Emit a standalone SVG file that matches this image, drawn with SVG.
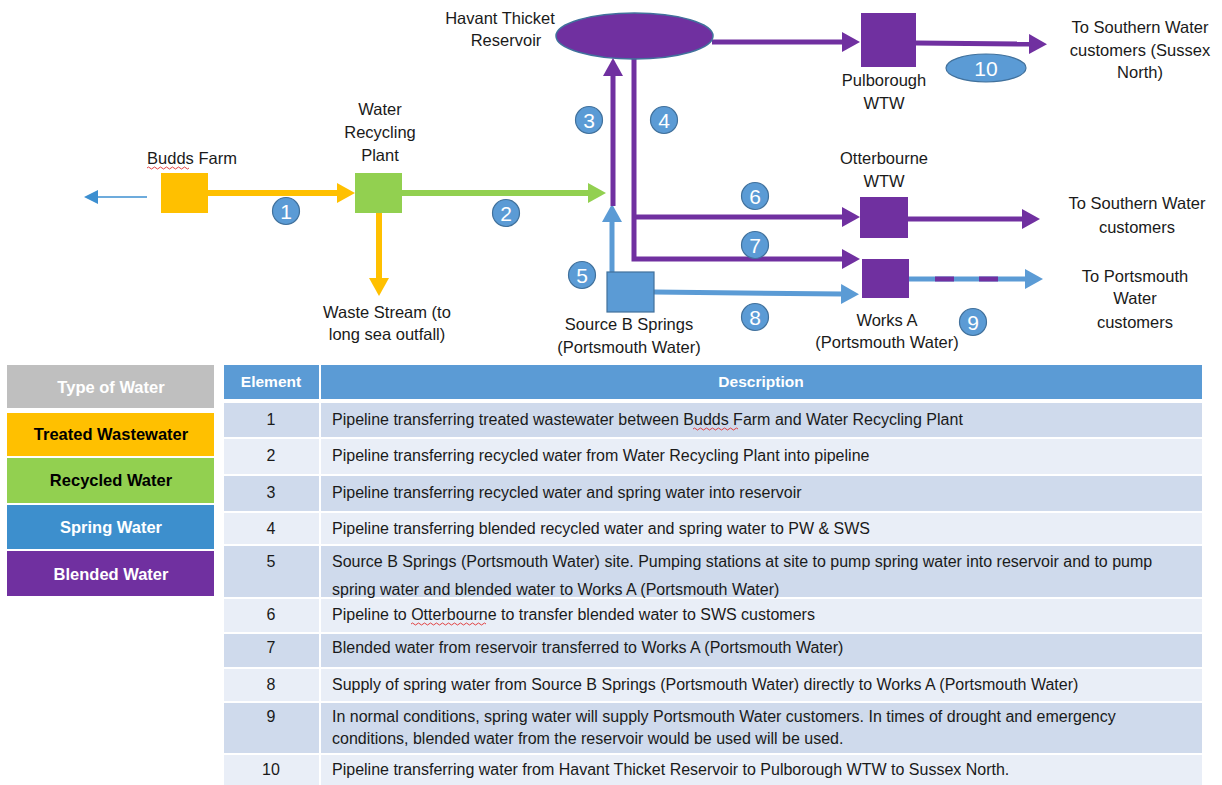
<svg xmlns="http://www.w3.org/2000/svg" width="1222" height="785" viewBox="0 0 1222 785">
<style>
text{font-family:"Liberation Sans",Arial,sans-serif;}
.lbl{font-size:16.5px;fill:#1a1a1a;text-anchor:middle;}
.num{font-size:21px;fill:#ffffff;text-anchor:middle;}
.badge{fill:#5B9BD5;stroke:#41719C;stroke-width:1.2;}
.leg{font-size:16.5px;font-weight:bold;text-anchor:middle;}
.th{font-size:15.5px;font-weight:bold;fill:#ffffff;text-anchor:middle;}
.td{font-size:16px;fill:#1a1a1a;}
.tdn{font-size:16px;fill:#1a1a1a;text-anchor:middle;}
.dark{fill:#CFDAEC;}
.light{fill:#E9EEF7;}
.py{stroke:#FFC000;stroke-width:6;fill:none;}
.pg{stroke:#92D050;stroke-width:6;fill:none;}
.pp{stroke:#7030A0;stroke-width:5;fill:none;}
.pb{stroke:#5B9BD5;stroke-width:5;fill:none;}
.squig{stroke:#E03030;stroke-width:0.9;fill:none;}
</style>
<defs>
<marker id="ay" markerUnits="userSpaceOnUse" markerWidth="18" markerHeight="20" viewBox="0 0 18 20" refX="1" refY="10" orient="auto"><path d="M0,0 L18,10 L0,20 z" fill="#FFC000"/></marker>
<marker id="ag" markerUnits="userSpaceOnUse" markerWidth="18" markerHeight="20" viewBox="0 0 18 20" refX="1" refY="10" orient="auto"><path d="M0,0 L18,10 L0,20 z" fill="#92D050"/></marker>
<marker id="ap" markerUnits="userSpaceOnUse" markerWidth="18" markerHeight="20" viewBox="0 0 18 20" refX="1" refY="10" orient="auto"><path d="M0,0 L18,10 L0,20 z" fill="#7030A0"/></marker>
<marker id="ab" markerUnits="userSpaceOnUse" markerWidth="18" markerHeight="20" viewBox="0 0 18 20" refX="1" refY="10" orient="auto"><path d="M0,0 L18,10 L0,20 z" fill="#5B9BD5"/></marker>
<marker id="abs" markerUnits="userSpaceOnUse" markerWidth="14" markerHeight="14" viewBox="0 0 14 14" refX="1" refY="7" orient="auto"><path d="M0,0 L14,7 L0,14 z" fill="#3D8FD0"/></marker>
</defs>

<g id="connectors">
<line x1="147" y1="197" x2="97" y2="197" stroke="#3D8FD0" stroke-width="1.5" marker-end="url(#abs)"/>
<line class="py" x1="208" y1="193" x2="338" y2="193" marker-end="url(#ay)"/>
<line class="py" x1="379" y1="213" x2="379" y2="279" marker-end="url(#ay)"/>
<line class="pg" x1="402" y1="193" x2="589" y2="193" marker-end="url(#ag)"/>
<line class="pb" x1="612" y1="272" x2="612" y2="221" marker-end="url(#ab)"/>
<line class="pp" x1="613" y1="206" x2="613" y2="75" marker-end="url(#ap)"/>
<path class="pp" d="M634,58 V259 H843" marker-end="url(#ap)"/>
<line class="pp" x1="634" y1="217" x2="843" y2="217" marker-end="url(#ap)"/>
<line class="pp" x1="712" y1="42" x2="843" y2="42" marker-end="url(#ap)"/>
<line class="pp" x1="916" y1="43" x2="1030" y2="44" marker-end="url(#ap)"/>
<line class="pp" x1="908" y1="219" x2="1023" y2="219" marker-end="url(#ap)"/>
<line class="pb" x1="654" y1="292" x2="842" y2="294" marker-end="url(#ab)"/>
<line class="pb" x1="909" y1="279" x2="1026" y2="279" marker-end="url(#ab)"/>
<line class="pp" x1="935" y1="279" x2="954" y2="279"/>
<line class="pp" x1="979" y1="279" x2="998" y2="279"/>
</g>

<g id="budds-farm">
<text class="lbl" x="192" y="164">Budds Farm</text>
<path class="squig" d="M147,168 q1.5,-2 3,0 t3,0 t3,0 t3,0 t3,0 t3,0 t3,0 t3,0 t3,0 t3,0 t3,0 t3,0 t3,0 t3,0"/>
<rect x="161" y="173" width="47" height="40" fill="#FFC000"/>
</g>

<g id="water-recycling-plant">
<text class="lbl" x="380" y="115">Water</text>
<text class="lbl" x="380" y="138">Recycling</text>
<text class="lbl" x="380" y="161">Plant</text>
<rect x="355" y="173" width="47" height="40" fill="#92D050"/>
</g>

<g id="waste-stream">
<text class="lbl" x="387" y="318">Waste Stream (to</text>
<text class="lbl" x="387" y="340">long sea outfall)</text>
</g>

<g id="reservoir">
<text class="lbl" x="500" y="24">Havant Thicket</text>
<text class="lbl" x="506" y="46">Reservoir</text>
<ellipse cx="634.5" cy="36" rx="78.5" ry="23" fill="#7030A0" stroke="#41719C" stroke-width="1.5"/>
</g>

<g id="pulborough">
<rect x="861" y="13" width="55" height="54" fill="#7030A0"/>
<text class="lbl" x="884" y="86">Pulborough</text>
<text class="lbl" x="884" y="109">WTW</text>
</g>

<g id="sussex-north">
<text class="lbl" x="1140" y="33">To Southern Water</text>
<text class="lbl" x="1140" y="56">customers (Sussex</text>
<text class="lbl" x="1140" y="78">North)</text>
</g>

<g id="otterbourne">
<text class="lbl" x="884" y="164">Otterbourne</text>
<text class="lbl" x="884" y="187">WTW</text>
<rect x="860" y="197" width="48" height="41" fill="#7030A0"/>
</g>

<g id="southern-customers">
<text class="lbl" x="1137" y="209">To Southern Water</text>
<text class="lbl" x="1137" y="233">customers</text>
</g>

<g id="works-a">
<rect x="862" y="259" width="47" height="39" fill="#7030A0"/>
<text class="lbl" x="887" y="326">Works A</text>
<text class="lbl" x="887" y="348">(Portsmouth Water)</text>
</g>

<g id="portsmouth-customers">
<text class="lbl" x="1135" y="282">To Portsmouth</text>
<text class="lbl" x="1135" y="304">Water</text>
<text class="lbl" x="1135" y="328">customers</text>
</g>

<g id="source-b-springs">
<rect x="607" y="272" width="47" height="40" fill="#5B9BD5" stroke="#41719C" stroke-width="1.2"/>
<text class="lbl" x="629" y="330">Source B Springs</text>
<text class="lbl" x="629" y="353">(Portsmouth Water)</text>
</g>

<g id="badges">
<circle class="badge" cx="286" cy="211" r="13.5"/><text class="num" x="286" y="218.5">1</text>
<circle class="badge" cx="506" cy="213" r="13.5"/><text class="num" x="506" y="220.5">2</text>
<circle class="badge" cx="589" cy="120" r="13.5"/><text class="num" x="589" y="127.5">3</text>
<circle class="badge" cx="664" cy="120" r="13.5"/><text class="num" x="664" y="127.5">4</text>
<circle class="badge" cx="582" cy="275" r="13.5"/><text class="num" x="582" y="282.5">5</text>
<circle class="badge" cx="755" cy="196" r="13.5"/><text class="num" x="755" y="203.5">6</text>
<circle class="badge" cx="755" cy="245" r="13.5"/><text class="num" x="755" y="252.5">7</text>
<circle class="badge" cx="755" cy="317" r="13.5"/><text class="num" x="755" y="324.5">8</text>
<circle class="badge" cx="973" cy="322" r="13.5"/><text class="num" x="973" y="329.5">9</text>
<ellipse class="badge" cx="986" cy="68" rx="40" ry="14"/><text class="num" x="986" y="75.5">10</text>
</g>

<g id="legend">
<rect x="7" y="365" width="207" height="43" fill="#BFBFBF"/>
<text class="leg" x="111" y="393" fill="#ffffff">Type of Water</text>
<rect x="7" y="413" width="207" height="43" fill="#FFC000"/>
<text class="leg" x="111" y="440" fill="#000000">Treated Wastewater</text>
<rect x="7" y="458" width="207" height="45" fill="#92D050"/>
<text class="leg" x="111" y="486" fill="#000000">Recycled Water</text>
<rect x="7" y="505" width="207" height="44" fill="#3D8FCD"/>
<text class="leg" x="111" y="533" fill="#ffffff">Spring Water</text>
<rect x="7" y="551" width="207" height="45" fill="#7030A0"/>
<text class="leg" x="111" y="580" fill="#ffffff">Blended Water</text>
</g>

<g id="table">
<rect x="224" y="365" width="95" height="34" fill="#5B9BD5"/>
<rect x="321" y="365" width="881" height="34" fill="#5B9BD5"/>
<text class="th" x="271" y="387">Element</text>
<text class="th" x="761" y="387">Description</text>

<rect class="dark" x="224" y="403" width="95" height="34"/><rect class="dark" x="321" y="403" width="881" height="34"/>
<text class="tdn" x="271" y="425">1</text>
<text class="td" x="332" y="425">Pipeline transferring treated wastewater between Budds Farm and Water Recycling Plant</text>
<path class="squig" d="M693,429 q1.5,-2 3,0 t3,0 t3,0 t3,0 t3,0 t3,0 t3,0 t3,0 t3,0 t3,0 t3,0 t3,0 t3,0 t3,0 t3,0"/>

<rect class="light" x="224" y="439" width="95" height="35"/><rect class="light" x="321" y="439" width="881" height="35"/>
<text class="tdn" x="271" y="461">2</text>
<text class="td" x="332" y="461">Pipeline transferring recycled water from Water Recycling Plant into pipeline</text>

<rect class="dark" x="224" y="476" width="95" height="35"/><rect class="dark" x="321" y="476" width="881" height="35"/>
<text class="tdn" x="271" y="498">3</text>
<text class="td" x="332" y="498">Pipeline transferring recycled water and spring water into reservoir</text>

<rect class="light" x="224" y="513" width="95" height="31"/><rect class="light" x="321" y="513" width="881" height="31"/>
<text class="tdn" x="271" y="534">4</text>
<text class="td" x="332" y="534">Pipeline transferring blended recycled water and spring water to PW &amp; SWS</text>

<rect class="dark" x="224" y="546" width="95" height="51"/><rect class="dark" x="321" y="546" width="881" height="51"/>
<text class="tdn" x="271" y="567">5</text>
<text class="td" x="332" y="567">Source B Springs (Portsmouth Water) site. Pumping stations at site to pump spring water into reservoir and to pump</text>
<text class="td" x="332" y="595">spring water and blended water to Works A (Portsmouth Water)</text>

<rect class="light" x="224" y="599" width="95" height="33"/><rect class="light" x="321" y="599" width="881" height="33"/>
<text class="tdn" x="271" y="620">6</text>
<text class="td" x="332" y="620">Pipeline to Otterbourne to transfer blended water to SWS customers</text>
<path class="squig" d="M411,624 q1.5,-2 3,0 t3,0 t3,0 t3,0 t3,0 t3,0 t3,0 t3,0 t3,0 t3,0 t3,0 t3,0 t3,0 t3,0 t3,0 t3,0 t3,0 t3,0 t3,0 t3,0 t3,0 t3,0 t3,0 t3,0 t3,0"/>

<rect class="dark" x="224" y="634" width="95" height="33"/><rect class="dark" x="321" y="634" width="881" height="33"/>
<text class="tdn" x="271" y="653">7</text>
<text class="td" x="332" y="653">Blended water from reservoir transferred to Works A (Portsmouth Water)</text>

<rect class="light" x="224" y="669" width="95" height="32"/><rect class="light" x="321" y="669" width="881" height="32"/>
<text class="tdn" x="271" y="690">8</text>
<text class="td" x="332" y="690">Supply of spring water from Source B Springs (Portsmouth Water) directly to Works A (Portsmouth Water)</text>

<rect class="dark" x="224" y="703" width="95" height="50"/><rect class="dark" x="321" y="703" width="881" height="50"/>
<text class="tdn" x="271" y="722">9</text>
<text class="td" x="332" y="722">In normal conditions, spring water will supply Portsmouth Water customers.  In times of drought and emergency</text>
<text class="td" x="332" y="744">conditions, blended water from the reservoir would be used will be used.</text>

<rect class="light" x="224" y="755" width="95" height="30"/><rect class="light" x="321" y="755" width="881" height="30"/>
<text class="tdn" x="271" y="775">10</text>
<text class="td" x="332" y="775">Pipeline transferring water from Havant Thicket Reservoir to Pulborough WTW to Sussex North.</text>
</g>
</svg>
